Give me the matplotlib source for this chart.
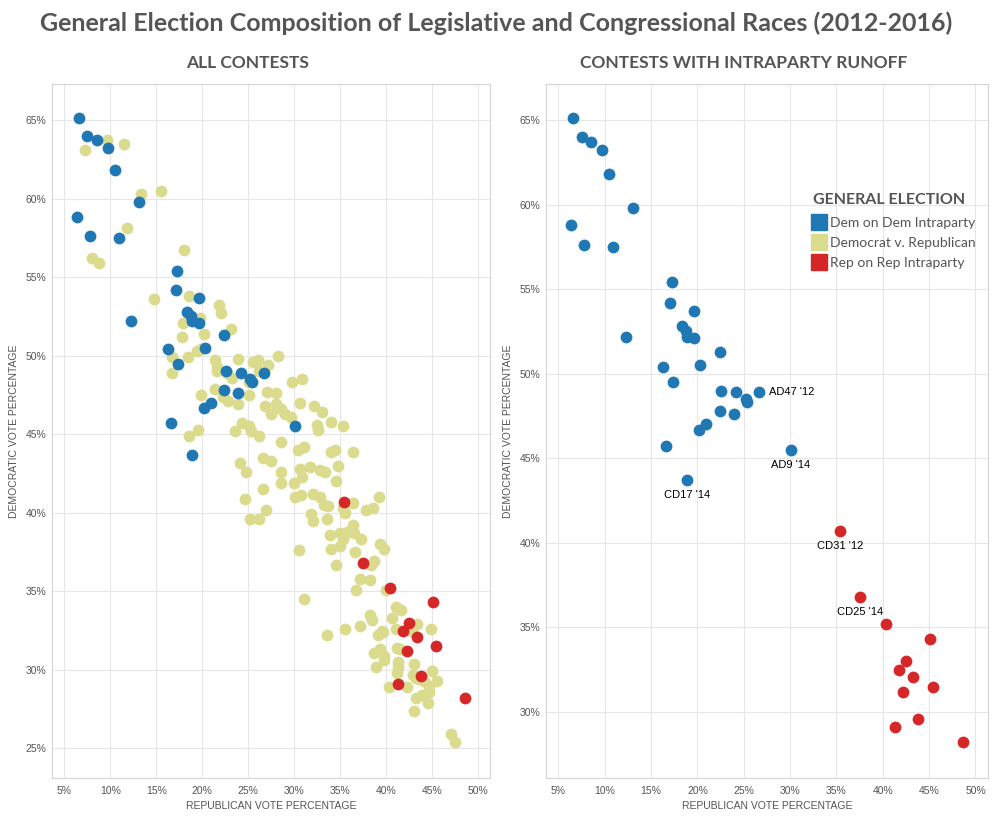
import matplotlib.pyplot as plt
from matplotlib.lines import Line2D
from matplotlib.ticker import FuncFormatter, MultipleLocator

plt.rcParams['font.family'] = ['Liberation Sans', 'DejaVu Sans']

# Democrat v. Republican contests (percent)
dem_rep_x = [9.6, 7.2, 11.5, 13.3, 15.5, 11.8, 8.0, 8.8, 18.0, 14.8,
             18.6, 21.8, 22.0, 19.7, 17.9, 23.1, 20.2, 17.8, 19.4, 19.9,
             18.4, 16.7, 16.7, 21.4, 21.6, 23.9, 25.5, 26.1, 27.1, 28.2,
             21.6, 22.7, 23.2, 25.1, 26.2, 29.8, 30.8, 19.9, 21.4, 22.3,
             22.8, 23.9, 25.1, 27.0, 28.0, 26.8, 27.5, 28.0, 28.5, 29.0,
             29.6, 30.6, 32.1, 33.0, 32.5, 32.6, 34.0, 35.3, 24.3, 25.1,
             25.3, 26.2, 23.6, 18.6, 19.5, 28.6, 30.4, 31.0, 34.0, 34.4,
             36.4, 24.1, 24.8, 26.6, 27.5, 28.6, 30.6, 31.7, 32.8, 33.3,
             34.7, 34.5, 30.0, 30.8, 28.5, 26.6, 24.6, 30.1, 30.7, 32.0,
             32.8, 39.2, 33.2, 33.7, 36.4, 35.3, 35.5, 37.8, 38.5, 25.2,
             26.2, 26.9, 31.8, 32.0, 33.5, 33.9, 35.0, 35.7, 36.4, 36.5,
             35.3, 35.0, 34.0, 37.3, 30.5, 36.6, 39.3, 39.8, 38.3, 38.7,
             34.5, 37.1, 38.2, 36.7, 40.0, 31.0, 41.0, 41.6, 40.6, 38.2,
             38.4, 43.3, 35.5, 37.1, 39.5, 41.0, 44.9, 33.5, 39.1, 39.6,
             42.8, 41.2, 41.5, 38.7, 39.3, 39.8, 39.8, 38.9, 41.3, 41.3,
             41.2, 43.0, 45.0, 45.5, 42.9, 43.2, 43.6, 44.1, 44.6, 44.6,
             43.2, 43.9, 44.5, 43.0, 40.3, 42.2, 47.0, 47.5]
dem_rep_y = [63.7, 63.1, 63.5, 60.3, 60.5, 58.1, 56.2, 55.9, 56.7, 53.6,
             53.8, 53.2, 52.7, 52.4, 52.1, 51.7, 51.4, 51.2, 50.3, 50.4,
             49.9, 49.9, 48.9, 49.7, 49.3, 49.8, 49.6, 49.7, 49.4, 50.0,
             49.0, 48.9, 48.6, 48.3, 49.0, 48.3, 48.5, 47.5, 47.9, 47.4,
             47.1, 46.9, 47.5, 47.7, 47.6, 46.8, 46.3, 46.9, 46.6, 46.3,
             46.1, 47.0, 46.8, 46.4, 45.6, 45.3, 45.8, 45.5, 45.7, 45.5,
             45.2, 44.9, 45.2, 44.9, 45.3, 44.5, 44.0, 44.2, 43.9, 44.0,
             43.9, 43.2, 42.6, 43.5, 43.3, 42.6, 42.8, 42.9, 42.7, 42.6,
             43.0, 42.0, 41.9, 42.3, 41.9, 41.5, 40.9, 41.0, 41.1, 41.2,
             41.0, 41.0, 40.5, 40.4, 40.6, 40.3, 40.0, 40.2, 40.3, 39.6,
             39.6, 40.2, 39.9, 39.5, 39.6, 38.6, 38.7, 38.8, 39.2, 38.7,
             38.3, 37.9, 37.7, 38.3, 37.6, 37.5, 38.0, 37.7, 36.7, 36.9,
             36.7, 35.8, 35.7, 35.1, 35.1, 34.5, 34.0, 33.8, 33.3, 33.5,
             33.2, 32.9, 32.6, 32.8, 32.5, 32.6, 32.6, 32.2, 32.2, 32.4,
             32.5, 31.4, 31.3, 31.1, 31.3, 30.9, 30.6, 30.2, 30.5, 30.2,
             29.8, 30.4, 29.9, 29.3, 29.7, 29.5, 29.4, 29.3, 29.0, 28.6,
             28.2, 28.4, 27.9, 27.4, 28.9, 28.9, 25.9, 25.4]

# Dem on Dem intraparty runoffs
dem_dem_x = [6.6, 7.5, 8.5, 9.7, 10.5, 13.1, 6.4, 7.8, 10.9, 17.3,
             17.1, 19.6, 18.3, 18.8, 18.9, 19.6, 12.3, 22.4, 16.3, 20.3,
             17.4, 22.6, 24.2, 26.7, 25.2, 25.4, 22.4, 23.9, 20.9, 20.2,
             16.6, 30.1, 18.9]
dem_dem_y = [65.1, 64.0, 63.7, 63.2, 61.8, 59.8, 58.8, 57.6, 57.5, 55.4,
             54.2, 53.7, 52.8, 52.5, 52.2, 52.1, 52.2, 51.3, 50.4, 50.5,
             49.5, 49.0, 48.9, 48.9, 48.5, 48.3, 47.8, 47.6, 47.0, 46.7,
             45.7, 45.5, 43.7]

# Rep on Rep intraparty runoffs
rep_rep_x = [35.4, 37.5, 40.4, 45.1, 42.5, 41.8, 43.3, 45.4, 42.2, 43.8, 41.3, 48.6]
rep_rep_y = [40.7, 36.8, 35.2, 34.3, 33.0, 32.5, 32.1, 31.5, 31.2, 29.6, 29.1, 28.2]

# labelled contests in the runoff panel
dem_labels = {23: "AD47 '12", 31: "AD9 '14", 32: "CD17 '14"}
rep_labels = {0: "CD31 '12", 1: "CD25 '14"}

BLUE = '#1f77b4'
KHAKI = '#dbdb8d'
RED = '#d62728'
GRAY = '#555555'
MS = 72

fig = plt.figure(figsize=(9.93, 8.17), dpi=100)
ax1 = fig.add_axes([52 / 993, 1 - 778 / 817, 438 / 993, 694 / 817])
ax2 = fig.add_axes([546 / 993, 1 - 778 / 817, 442 / 993, 694 / 817])

pct = FuncFormatter(lambda v, p: f'{v:.0f}%')


def style(ax, xlim, ylim):
    ax.set_xlim(*xlim)
    ax.set_ylim(*ylim)
    ax.xaxis.set_major_locator(MultipleLocator(5))
    ax.yaxis.set_major_locator(MultipleLocator(5))
    ax.xaxis.set_major_formatter(pct)
    ax.yaxis.set_major_formatter(pct)
    ax.grid(True, color='#e6e6e6', lw=0.8)
    ax.set_axisbelow(True)
    for s in ax.spines.values():
        s.set_color('#d4d4d4')
        s.set_linewidth(0.8)
    ax.tick_params(length=0, labelsize=7.5, labelcolor=GRAY)
    ax.tick_params(axis='x', pad=6)
    ax.tick_params(axis='y', pad=4)
    ax.set_xlabel('REPUBLICAN VOTE PERCENTAGE', fontsize=7.5, color=GRAY, va='center')
    ax.xaxis.set_label_coords(0.5, -0.040)
    ax.set_ylabel('DEMOCRATIC VOTE PERCENTAGE', fontsize=7.5, color=GRAY, va='center')
    ax.yaxis.set_label_coords(-0.087, 0.5)


# left: all contests
ax1.scatter(dem_rep_x, dem_rep_y, s=MS, color=KHAKI, lw=0, zorder=2)
ax1.scatter(dem_dem_x, dem_dem_y, s=MS, color=BLUE, lw=0, zorder=3)
ax1.scatter(rep_rep_x, rep_rep_y, s=MS, color=RED, lw=0, zorder=3)
style(ax1, (3.66, 51.27), (23.12, 67.29))

# right: runoff contests only
ax2.scatter(dem_dem_x, dem_dem_y, s=MS, color=BLUE, lw=0, zorder=3)
ax2.scatter(rep_rep_x, rep_rep_y, s=MS, color=RED, lw=0, zorder=3)
style(ax2, (3.67, 51.35), (26.10, 67.13))

for i, lab in dem_labels.items():
    if i == 23:
        ax2.annotate(lab, (dem_dem_x[i], dem_dem_y[i]), xytext=(7, 0), textcoords='offset points',
                     ha='left', va='center', fontsize=8)
    else:
        ax2.annotate(lab, (dem_dem_x[i], dem_dem_y[i]), xytext=(0, -7), textcoords='offset points',
                     ha='center', va='top', fontsize=8)
for i, lab in rep_labels.items():
    ax2.annotate(lab, (rep_rep_x[i], rep_rep_y[i]), xytext=(0, -7), textcoords='offset points',
                 ha='center', va='top', fontsize=8)

handles = [Line2D([], [], marker='s', ls='', markersize=11, color=c)
           for c in (BLUE, KHAKI, RED)]
leg = ax2.legend(handles, ['Dem on Dem Intraparty', 'Democrat v. Republican', 'Rep on Rep Intraparty'],
                 title='GENERAL ELECTION', loc='upper left', bbox_to_anchor=(0.604, 0.843),
                 frameon=False, handlelength=0.9, handletextpad=0.35, labelspacing=0.58,
                 borderaxespad=0, borderpad=0, prop={'family': 'Lato', 'size': 10},
                 title_fontproperties={'family': 'Lato', 'weight': 'bold', 'size': 11.5})
leg._legend_box.align = 'left'
leg._legend_box.sep = 7
leg.get_title().set_color(GRAY)
for t in leg.get_texts():
    t.set_color(GRAY)

fig.text(0.5, 1 - 23 / 817, 'General Election Composition of Legislative and Congressional Races (2012-2016)',
         ha='center', va='center', fontsize=18, fontweight='bold', color=GRAY, family='Lato')
fig.text(248 / 993, 1 - 63 / 817, 'ALL CONTESTS', ha='center', va='center',
         fontsize=12.5, fontweight='bold', color=GRAY, family='Lato')
fig.text(744 / 993, 1 - 63 / 817, 'CONTESTS WITH INTRAPARTY RUNOFF', ha='center', va='center',
         fontsize=12.5, fontweight='bold', color=GRAY, family='Lato')

fig.savefig('out.png', dpi=100)
